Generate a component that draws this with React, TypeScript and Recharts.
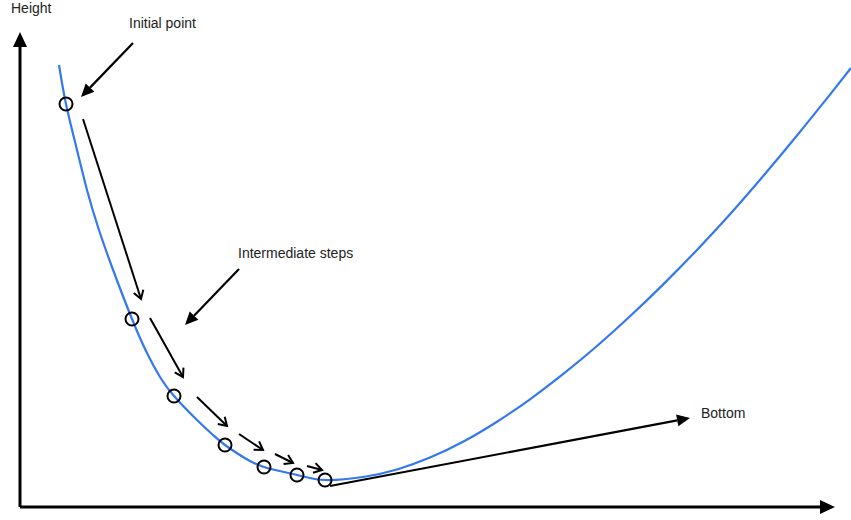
import { ComposedChart, Line, Scatter, XAxis, YAxis, ReferenceLine, ReferenceDot } from "recharts";

// blue loss curve (x = position, y = height)
const curveX = [3.9, 4.6, 5.7, 6.7, 7.8, 9.2, 11.2, 12.7, 14, 15.4, 17.7, 19.3, 20.5, 22.3, 24.4, 27.7, 30.5, 34.3, 37.7, 41, 44.3, 47.7, 51, 54.3, 57.7, 61, 64.3, 67.7, 71, 74.3, 77.7, 81, 83.1];
const curveY = [44.2, 40.3, 35.7, 31.7, 28, 24, 18.8, 15.4, 13, 11.1, 8.7, 7.2, 6.2, 5, 4, 3.2, 2.7, 3.0, 3.75, 4.94, 6.52, 8.53, 10.77, 13.28, 16.1, 19.07, 22.24, 25.71, 29.27, 33.07, 37.15, 41.24, 43.9];

// gradient descent steps (circles)
const stepX = [4.6, 11.2, 15.4, 20.5, 24.4, 27.7, 30.5];
const stepY = [40.3, 18.8, 11.1, 6.2, 4, 3.2, 2.7];

// small arrows between the steps: [x1, y1, x2, y2]
const stepArrows = [
    [6.3, 38.8, 12.1, 20.8],
    [13, 18.9, 16.3, 13],
    [17.7, 11, 20.7, 8.1],
    [21.9, 7.3, 24.3, 5.7],
    [25.5, 5.3, 27.3, 4.4],
    [28.7, 4.1, 30.2, 3.7],
];

// annotations
const noteLabels = ["Height", "Initial point", "Intermediate steps", "Bottom"];
const noteX = [-0.9, 10.9, 21.8, 68.1];
const noteY = [49.4, 47.9, 24.9, 8.9];
const noteArrows = [
    [11.3, 46.4, 6.1, 41],
    [21.9, 23.8, 16.5, 18.2],
    [31, 2.1, 67, 8.9],
];

const axisArrows = [
    [0, 0, 0, 47.5],
    [0, 0, 81.5, 0],
];

const curveData = curveX.map((x, i) => ({ x, y: curveY[i] }));
const stepData = stepX.map((x, i) => ({ x, y: stepY[i] }));

// line with an arrowhead at the end
const arrowShape = (filled: boolean, len: number, half: number, width: number) => (props: any) => {
    const { x1, y1, x2, y2 } = props;
    const a = Math.atan2(y2 - y1, x2 - x1);
    const cos = Math.cos(a);
    const sin = Math.sin(a);
    const bx = x2 - len * cos;
    const by = y2 - len * sin;
    const lx = bx + half * sin;
    const ly = by - half * cos;
    const rx = bx - half * sin;
    const ry = by + half * cos;
    return (
        <g>
            <line x1={x1} y1={y1} x2={filled ? bx : x2} y2={filled ? by : y2} stroke="#000" strokeWidth={width} />
            {filled ? (
                <polygon points={`${x2},${y2} ${lx},${ly} ${rx},${ry}`} fill="#000" />
            ) : (
                <polyline points={`${lx},${ly} ${x2},${y2} ${rx},${ry}`} fill="none" stroke="#000" strokeWidth={width} />
            )}
        </g>
    );
};

const textShape = (label: string) => (props: any) => (
    <text x={props.cx} y={props.cy} fontSize={14} fill="#222" fontFamily="Liberation Sans, Arial, sans-serif">
        {label}
    </text>
);

const ringShape = (props: any) => (
    <circle cx={props.cx} cy={props.cy} r={6.5} fill="none" stroke="#000" strokeWidth={2} />
);

export default function App() {
    return (
        <div style={{ position: "fixed", left: 0, top: 0, background: "#fff" }}>
            <ComposedChart width={851} height={520} margin={{ top: 0, right: 0, bottom: 0, left: 0 }}>
                <XAxis type="number" dataKey="x" domain={[-2, 83.1]} allowDataOverflow hide />
                <YAxis type="number" dataKey="y" domain={[-1.3, 50.7]} allowDataOverflow hide />

                {axisArrows.map((s, i) => (
                    <ReferenceLine
                        key={`axis-${i}`}
                        segment={[{ x: s[0], y: s[1] }, { x: s[2], y: s[3] }]}
                        shape={arrowShape(true, 15, 7, 3)}
                    />
                ))}

                <Line
                    data={curveData}
                    dataKey="y"
                    type="natural"
                    stroke="#3478f0"
                    strokeWidth={2.2}
                    dot={false}
                    activeDot={false}
                    isAnimationActive={false}
                />

                {stepArrows.map((s, i) => (
                    <ReferenceLine
                        key={`step-${i}`}
                        segment={[{ x: s[0], y: s[1] }, { x: s[2], y: s[3] }]}
                        shape={arrowShape(false, 8, 5, 2)}
                    />
                ))}

                {noteArrows.map((s, i) => (
                    <ReferenceLine
                        key={`note-${i}`}
                        segment={[{ x: s[0], y: s[1] }, { x: s[2], y: s[3] }]}
                        shape={arrowShape(true, 13, 6, 2.2)}
                    />
                ))}

                <Scatter data={stepData} dataKey="y" shape={ringShape} isAnimationActive={false} />

                {noteLabels.map((label, i) => (
                    <ReferenceDot key={label} x={noteX[i]} y={noteY[i]} r={0} shape={textShape(label)} />
                ))}
            </ComposedChart>
        </div>
    );
}
